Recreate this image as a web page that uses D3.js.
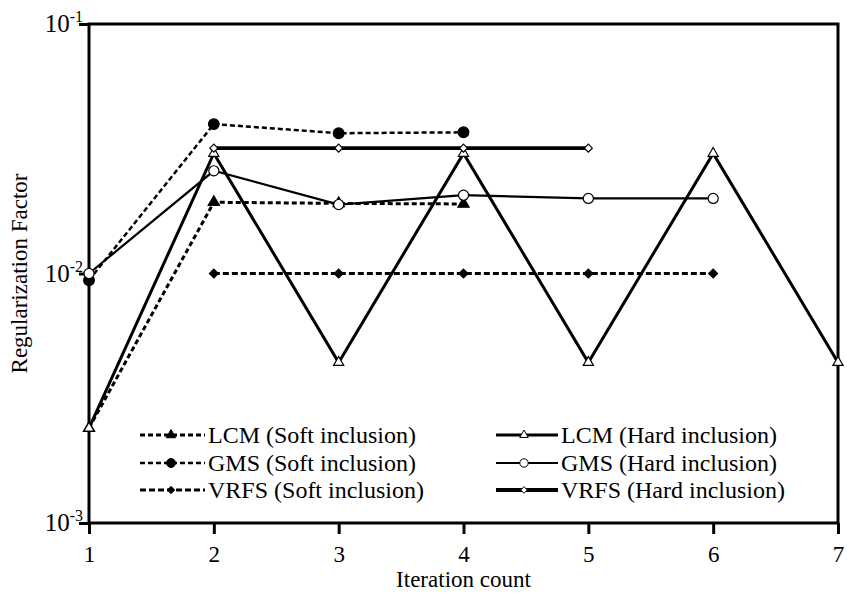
<!DOCTYPE html>
<html>
<head>
<meta charset="utf-8">
<script src="https://cdn.jsdelivr.net/npm/d3@7"></script>
<style>
  body { margin: 0; background: #fff; }
  svg text { fill: #000; }
</style>
</head>
<body>
<div id="chart"></div>
<script>
// iterations on the x axis
let iterations = [1, 2, 3, 4, 5, 6, 7];
let yTicks = [0.001, 0.01, 0.1];
let yTickExp = ["-3", "-2", "-1"];

// series values, each starts at its first iteration
let lcmSoft  = [0.0024, 0.0193, 0.0191, 0.0190];
let gmsSoft  = [0.0094, 0.0397, 0.0365, 0.0368];
let vrfsSoft = [0.0100, 0.0100, 0.0100, 0.0100, 0.0100];
let lcmHard  = [0.0024, 0.0303, 0.0044, 0.0303, 0.0044, 0.0303, 0.0044];
let gmsHard  = [0.0100, 0.0258, 0.0189, 0.0206, 0.0200, 0.0200];
let vrfsHard = [0.0318, 0.0318, 0.0318, 0.0318];

let seriesNames = ["LCM (Soft inclusion)", "GMS (Soft inclusion)", "VRFS (Soft inclusion)",
                   "LCM (Hard inclusion)", "GMS (Hard inclusion)", "VRFS (Hard inclusion)"];

let serif = "Times New Roman, Liberation Serif, Tinos, DejaVu Serif, Noto Serif, Times, serif";

let margin = {top: 24, right: 9, bottom: 73, left: 89},
    width = 847 - margin.left - margin.right,
    height = 596 - margin.top - margin.bottom;

let diamond = d3.symbolDiamond2 || d3.symbolDiamond;

let series = [
  {name: seriesNames[0], start: 1, values: lcmSoft,  dash: "5,3", sw: 3,   sym: d3.symbolTriangle, size: 55, fill: "#000"},
  {name: seriesNames[1], start: 1, values: gmsSoft,  dash: "5,3", sw: 2.5, sym: d3.symbolCircle,   size: 90, fill: "#000"},
  {name: seriesNames[2], start: 2, values: vrfsSoft, dash: "6,3", sw: 3,   sym: diamond,           size: 50, fill: "#000"},
  {name: seriesNames[3], start: 1, values: lcmHard,  dash: null,  sw: 3,   sym: d3.symbolTriangle, size: 45, fill: "#fff"},
  {name: seriesNames[4], start: 1, values: gmsHard,  dash: null,  sw: 2.2, sym: d3.symbolCircle,   size: 80, fill: "#fff"},
  {name: seriesNames[5], start: 2, values: vrfsHard, dash: null,  sw: 3.8, sym: diamond,           size: 40, fill: "#fff"}
];

let x = d3.scaleLinear().domain([1, 7]).range([0, width]);
let y = d3.scaleLog().domain([0.001, 0.1]).range([height, 0]);

let svg = d3.select("#chart")
            .append("svg")
            .attr("width", width + margin.left + margin.right)
            .attr("height", height + margin.top + margin.bottom)
            .style("font-family", serif)
            .append("g")
            .attr("transform", "translate(" + margin.left + "," + margin.top + ")");

// frame
svg.append("rect")
   .attr("width", width)
   .attr("height", height)
   .attr("fill", "none")
   .attr("stroke", "#000")
   .attr("stroke-width", 3);

// x axis
let xAxis = svg.append("g")
   .attr("transform", "translate(0," + height + ")")
   .call(d3.axisBottom(x).tickValues(iterations).tickSize(11).tickPadding(12).tickFormat(d3.format("d")));
xAxis.attr("font-family", null);
xAxis.select(".domain").remove();
xAxis.selectAll("line").attr("stroke-width", 3);
xAxis.selectAll("text").attr("font-size", 23);

// y axis, labels written as 10 with a superscript
let yAxis = svg.append("g")
   .call(d3.axisLeft(y).tickValues(yTicks).tickSize(10).tickFormat(""));
yAxis.select(".domain").remove();
yAxis.selectAll("line").attr("stroke-width", 3);

let yLab = svg.selectAll(".ylab")
   .data(yTicks)
   .enter().append("text")
   .attr("class", "ylab")
   .attr("text-anchor", "end")
   .attr("x", -6)
   .attr("y", function(d) { return y(d) + 8; })
   .attr("font-size", 25);
yLab.append("tspan").text("10");
yLab.append("tspan")
    .attr("font-size", 16)
    .attr("dy", -10)
    .text(function(d, i) { return yTickExp[i]; });

// axis titles
svg.append("text")
   .attr("text-anchor", "middle")
   .attr("x", width / 2)
   .attr("y", height + 64)
   .attr("font-size", 23)
   .text("Iteration count");

svg.append("text")
   .attr("text-anchor", "middle")
   .attr("transform", "rotate(-90)")
   .attr("x", -height / 2)
   .attr("y", -margin.left + 27)
   .attr("font-size", 23)
   .text("Regularization Factor");

// lines
series.forEach(function(s) {
  let pts = s.values.map(function(v, i) { return {it: s.start + i, v: v}; });
  let line = d3.line()
               .x(function(d) { return x(d.it); })
               .y(function(d) { return y(d.v); });
  s.pts = pts;
  svg.append("path")
     .datum(pts)
     .attr("d", line)
     .attr("fill", "none")
     .attr("stroke", "#000")
     .attr("stroke-width", s.sw)
     .attr("stroke-dasharray", s.dash);
});

// markers on top
series.forEach(function(s) {
  svg.selectAll(null)
     .data(s.pts)
     .enter().append("path")
     .attr("transform", function(d) { return "translate(" + x(d.it) + "," + y(d.v) + ")"; })
     .attr("d", d3.symbol().type(s.sym).size(s.size))
     .attr("fill", s.fill)
     .attr("stroke", "#000")
     .attr("stroke-width", 1.2);
});

// legend, two columns of three
let legX = [[51, 116, 82], [407, 469, 435]];
let legRows = [411, 439, 466];
series.forEach(function(s, i) {
  let col = legX[Math.floor(i / 3)];
  let ly = legRows[i % 3];
  let g = svg.append("g");
  g.append("line")
   .attr("x1", col[0]).attr("x2", col[1])
   .attr("y1", ly).attr("y2", ly)
   .attr("stroke", "#000")
   .attr("stroke-width", s.sw)
   .attr("stroke-dasharray", s.dash);
  g.append("path")
   .attr("transform", "translate(" + col[2] + "," + ly + ")")
   .attr("d", d3.symbol().type(s.sym).size(s.size * 0.7))
   .attr("fill", s.fill)
   .attr("stroke", "#000")
   .attr("stroke-width", 1);
  g.append("text")
   .attr("x", col[1] + 3)
   .attr("y", ly)
   .attr("dy", "0.33em")
   .attr("font-size", 24)
   .text(s.name);
});
</script>
</body>
</html>
